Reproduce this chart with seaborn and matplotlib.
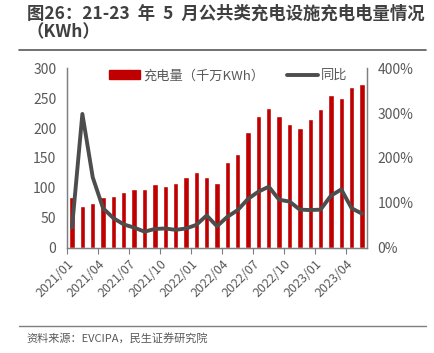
import pandas as pd
import matplotlib.pyplot as plt
import numpy as np
import seaborn as sns
from matplotlib.ticker import MultipleLocator, FuncFormatter
from matplotlib.patches import Patch
from matplotlib.lines import Line2D

# DATA
months = ['2021/01', '2021/02', '2021/03', '2021/04', '2021/05', '2021/06',
          '2021/07', '2021/08', '2021/09', '2021/10', '2021/11', '2021/12',
          '2022/01', '2022/02', '2022/03', '2022/04', '2022/05', '2022/06',
          '2022/07', '2022/08', '2022/09', '2022/10', '2022/11', '2022/12',
          '2023/01', '2023/02', '2023/03', '2023/04', '2023/05']
charge = [84, 69, 75, 85, 86, 93, 98, 99, 107, 103, 109, 118,
          126, 119, 109, 143, 157, 193, 220, 234, 220, 207, 200, 215,
          232, 255, 250, 269, 274]
yoy = [45, 298, 157, 88, 66, 52, 45, 36, 42, 43, 40, 43,
       51, 72, 48, 69, 84, 109, 125, 136, 107, 103, 85, 84,
       85, 116, 130, 88, 76]

df = pd.DataFrame({'month': months, 'charge': charge, 'yoy': yoy})
df['pos'] = df.index

sns.set_style('white')
plt.rcParams['font.family'] = ['Noto Sans CJK SC', 'DejaVu Sans']

RED = '#C00000'
GRAY = '#4D4D4D'
TXT = '#595959'

fig = plt.figure(figsize=(4.34, 3.53), dpi=100)
ax = fig.add_axes([0.154, 0.298, 0.692, 0.509])

sns.barplot(data=df, x='month', y='charge', color=RED, width=0.52,
            saturation=1, ax=ax)
ax.set_xlim(-0.5, len(months) - 0.5)
ax.set_ylim(0, 300)
ax.yaxis.set_major_locator(MultipleLocator(50))
ax.set_xlabel('')
ax.set_ylabel('')

ax2 = ax.twinx()
sns.lineplot(data=df, x='pos', y='yoy', color=GRAY, linewidth=2.8, ax=ax2)
ax2.set_ylim(0, 400)
ax2.yaxis.set_major_locator(MultipleLocator(100))
ax2.yaxis.set_major_formatter(FuncFormatter(lambda v, p: f'{int(v)}%'))
ax2.set_xlabel('')
ax2.set_ylabel('')
ax.set_xlim(-0.5, len(months) - 0.5)

# x ticks on category boundaries every 3 months
tpos = np.arange(0, len(months), 3) - 0.5
ax.set_xticks(tpos)
ax.set_xticklabels(months[::3], rotation=45, ha='right',
                   rotation_mode='anchor', fontsize=9, color=TXT)
ax.tick_params(axis='x', bottom=True, length=4, width=0.8, color='#7F7F7F',
               direction='out', pad=3)
ax.tick_params(axis='y', left=False, labelsize=10, labelcolor=TXT, pad=4)
ax2.tick_params(axis='y', right=False, labelsize=10, labelcolor=TXT, pad=4)

for a in (ax, ax2):
    a.spines['top'].set_visible(False)
    for s in ('left', 'right', 'bottom'):
        a.spines[s].set_color('#7F7F7F')
        a.spines[s].set_linewidth(0.9)

handles = [Patch(facecolor=RED, edgecolor=RED),
           Line2D([0], [0], color=GRAY, linewidth=2.8)]
ax.legend(handles, ['充电量（千万KWh）', '同比'], ncol=2, frameon=False,
          loc='upper left', bbox_to_anchor=(0.1, 1.06), fontsize=9.5,
          handlelength=2.4, handleheight=0.6, columnspacing=1.7,
          handletextpad=0.2, labelcolor=TXT)

# title and source
fig.text(0.062, 0.962, '图26：21-23  年  5  月公共类充电设施充电电量情况',
         fontsize=12.5, fontweight='bold', color='#404040', va='center')
fig.text(0.062, 0.908, '（KWh）', fontsize=12.5, fontweight='bold',
         color='#404040', va='center')
fig.add_artist(Line2D([0.044, 0.982], [0.858, 0.858], color='#595959',
                      linewidth=1.2))
fig.add_artist(Line2D([0.044, 0.982], [0.076, 0.076], color='#7F7F7F',
                      linewidth=1.0))
fig.text(0.062, 0.042, '资料来源：EVCIPA，民生证券研究院', fontsize=8,
         color=TXT, va='center')

fig.savefig('out.png', dpi=100)
